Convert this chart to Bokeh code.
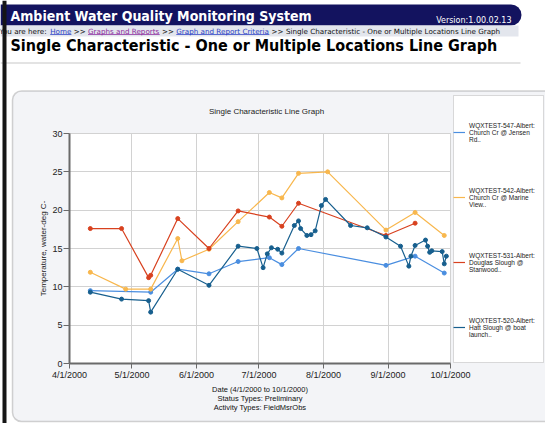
import datetime as dt
from bokeh.plotting import figure
from bokeh.models import Range1d, FixedTicker, Legend, LegendItem, Label, BoxAnnotation, Grid
from bokeh.embed import file_html
from bokeh.resources import INLINE

# ---------------- data ----------------
s547_dates = ["2000-04-11", "2000-05-10", "2000-05-23", "2000-06-07", "2000-06-21", "2000-07-06",
              "2000-07-12", "2000-07-20", "2000-08-31", "2000-09-14", "2000-09-28"]
s547_vals = [9.5, 9.3, 12.3, 11.7, 13.3, 13.8, 12.9, 15.0, 12.8, 14.0, 11.8]

s542_dates = ["2000-04-11", "2000-04-28", "2000-05-10", "2000-05-23", "2000-05-25", "2000-06-07",
              "2000-06-21", "2000-07-06", "2000-07-12", "2000-07-20", "2000-08-03", "2000-08-31",
              "2000-09-14", "2000-09-28"]
s542_vals = [11.9, 9.7, 9.7, 16.3, 13.4, 14.9, 18.5, 22.3, 21.6, 24.8, 25.0, 17.4, 19.7, 16.7]

s531_dates = ["2000-04-11", "2000-04-26", "2000-05-09", "2000-05-10", "2000-05-23", "2000-06-07",
              "2000-06-21", "2000-07-06", "2000-07-12", "2000-07-20", "2000-08-31", "2000-09-14"]
s531_vals = [17.6, 17.6, 11.2, 11.5, 18.9, 15.0, 19.9, 19.1, 17.9, 20.9, 16.7, 18.3]

s520_dates = ["2000-04-11", "2000-04-26", "2000-05-09", "2000-05-10", "2000-05-23", "2000-06-07",
              "2000-06-21", "2000-06-30", "2000-07-03", "2000-07-05", "2000-07-07", "2000-07-10",
              "2000-07-12", "2000-07-18", "2000-07-20", "2000-07-21", "2000-07-24", "2000-07-26",
              "2000-07-28", "2000-07-31", "2000-08-02", "2000-08-14", "2000-08-22", "2000-08-31",
              "2000-09-07", "2000-09-11", "2000-09-12", "2000-09-14", "2000-09-19", "2000-09-20",
              "2000-09-21", "2000-09-22", "2000-09-27", "2000-09-28", "2000-09-29"]
s520_vals = [9.3, 8.4, 8.2, 6.7, 12.3, 10.2, 15.3, 15.0, 12.5, 14.3, 15.1, 14.9,
             14.4, 18.0, 18.6, 17.6, 16.7, 16.8, 17.3, 20.6, 21.4, 18.0, 17.7, 16.5,
             15.3, 12.7, 14.0, 15.4, 16.1, 15.3, 14.5, 14.7, 14.6, 13.0, 14.0]

series_labels = [
    "WQXTEST-547-Albert:\nChurch Cr @ Jensen\nRd..",
    "WQXTEST-542-Albert:\nChurch Cr @ Marine\nView..",
    "WQXTEST-531-Albert:\nDouglas Slough @\nStanwood..",
    "WQXTEST-520-Albert:\nHatt Slough @ boat\nlaunch..",
]
series_colors = ["#4a8ee0", "#f8b74d", "#d8411f", "#175f8e"]

x_tick_dates = ["2000-04-01", "2000-05-01", "2000-06-01", "2000-07-01", "2000-08-01", "2000-09-01", "2000-10-01"]
x_tick_labels = ["4/1/2000", "5/1/2000", "6/1/2000", "7/1/2000", "8/1/2000", "9/1/2000", "10/1/2000"]
y_ticks = [0, 5, 10, 15, 20, 25, 30]
y_min, y_max = 0, 30

page_title = "Ambient Water Quality Monitoring System"
version_text = "Version:1.00.02.13"
crumb_parts = [("You are here:", "text"), ("Home", "link"), (">>", "text"),
               ("Graphs and Reports", "visited"), (">>", "text"),
               ("Graph and Report Criteria", "link"),
               (">>", "text"), ("Single Characteristic - One or Multiple Locations Line Graph", "text")]
heading = "Single Characteristic - One or Multiple Locations Line Graph"
chart_title = "Single Characteristic Line Graph"
x_label_lines = ["Date (4/1/2000 to 10/1/2000)", "Status Types: Preliminary", "Activity Types: FieldMsrObs"]
y_label = "Temperature, water-deg C-"

EPOCH = dt.datetime(1970, 1, 1)


def to_dt(s):
    return dt.datetime.strptime(s, "%Y-%m-%d")


def to_ms(s):
    return (to_dt(s) - EPOCH).total_seconds() * 1000.0


# ---------------- layout (canvas = frame = whole window) ----------------
W, H = 545, 423
PL, PR, PT, PB = 69, 450, 133, 363     # plot-area edges in pixels

x0, x1 = to_ms(x_tick_dates[0]), to_ms(x_tick_dates[-1])
xpp = (x1 - x0) / (PR - PL)
ypp = (y_max - y_min) / (PB - PT)
x_range = Range1d(x0 - PL * xpp, x1 + (W - PR) * xpp)
y_range = Range1d(y_min - (H - PB) * ypp, y_max + PT * ypp)


def sy(y):  # top-down pixel -> bottom-up screen units
    return H - y


SANS = "Liberation Sans, Arial, sans-serif"
VERD = "DejaVu Sans, Verdana, sans-serif"
COND = "DejaVu Sans Condensed, DejaVu Sans, sans-serif"

# approximate DejaVu Sans advance widths (em) for laying out the breadcrumb pieces
DV = {" ": .318, ">": .838, ":": .337, "-": .361, ".": .318,
      "a": .613, "b": .635, "c": .550, "d": .635, "e": .615, "f": .352, "g": .635, "h": .634,
      "i": .278, "j": .278, "k": .579, "l": .278, "m": .974, "n": .634, "o": .612, "p": .635,
      "q": .635, "r": .411, "s": .521, "t": .392, "u": .634, "v": .592, "w": .818, "x": .592,
      "y": .592, "z": .525, "A": .684, "C": .698, "G": .775, "H": .752, "L": .557, "M": .863,
      "O": .787, "R": .695, "S": .635, "Y": .611}


def em_width(s):
    return sum(DV.get(ch, .6) for ch in s)


p = figure(width=W, height=H, x_axis_type="datetime", output_backend="svg", toolbar_location=None,
           title=None, min_border=0, x_range=x_range, y_range=y_range)
p.border_fill_color = "white"
p.background_fill_color = "white"
p.outline_line_color = None


def box(l, r, t, b, fill, line=None, lw=1, radius=0, level="annotation", alpha=1.0):
    ba = BoxAnnotation(left=l, right=r, top=sy(t), bottom=sy(b),
                       left_units="screen", right_units="screen", top_units="screen", bottom_units="screen",
                       fill_color=fill, fill_alpha=alpha if fill else 0, line_color=line, line_width=lw,
                       border_radius=radius, level=level)
    p.add_layout(ba)
    return ba


def add_label(text, x, y, size, color="black", font=SANS, style="normal", align="left", baseline="middle", angle=0):
    lab = Label(x=x, y=sy(y), x_units="screen", y_units="screen", text=text, angle=angle,
                text_font=font, text_font_size=size, text_color=color, text_font_style=style,
                text_align=align, text_baseline=baseline)
    p.add_layout(lab)
    return lab


# chart panel and plot area (drawn under grid and data)
box(12, 575, 90.5, 421, "#f3f4f7", line="#6e6e6e", lw=1.5, radius=9, level="image")
plot_area = BoxAnnotation(left=x0, right=x1, bottom=y_min, top=y_max, fill_color="white", fill_alpha=1,
                          line_color="#8a8a8a", line_width=1, level="image")
p.add_layout(plot_area)
box(453, 543, 95, 362, "white", line="#8a8a8a", lw=1, level="image")

# page header
box(0, 521, 4, 25, "#13135f", radius=(0, 11, 11, 0))
box(0, 518, 25, 36, "#e3e6ed")
box(0, 520, 62, 63, "#c8c8c8")
box(2, 6, 0, 423, "#161616")

add_label(page_title, 10, 15, "14px", "white", font=COND, style="bold")
add_label(version_text, 511, 19.5, "8px", "white", font=VERD, align="right")

# breadcrumb, pieces laid out one after another with a space between
crumb_x0, crumb_x1 = -1, 500
space_em = DV[" "]
total_em = sum(em_width(t) for t, _ in crumb_parts) + space_em * (len(crumb_parts) - 1)
crumb_fs = (crumb_x1 - crumb_x0) / total_em
crumb_colors = {"text": "#111111", "link": "#2b3fc4", "visited": "#8b2a9c"}
cx = crumb_x0
for txt, kind in crumb_parts:
    add_label(txt, cx, 30.5, "%.2fpx" % crumb_fs, crumb_colors[kind], font=VERD)
    w = em_width(txt) * crumb_fs
    if kind != "text":
        box(cx, cx + w, 33.7, 34.5, crumb_colors[kind])
    cx += w + space_em * crumb_fs

add_label(heading, 10, 45, "16px", "black", font=COND, style="bold")

add_label(chart_title, 266, 111, "8px", "#222222", font=SANS, align="center")
for i, line in enumerate(x_label_lines):
    add_label(line, 259.5, 389 + 9 * i, "7.5px", "#111111", font=SANS, align="center")

# ---------------- data glyphs ----------------
all_series = [(s547_dates, s547_vals), (s542_dates, s542_vals), (s531_dates, s531_vals), (s520_dates, s520_vals)]
items = []
for (dates, vals), lbl, col in zip(all_series, series_labels, series_colors):
    xs = [to_dt(d) for d in dates]
    ln = p.line(xs, vals, line_color=col, line_width=1.2)
    p.scatter(xs, vals, size=4, fill_color=col, line_color=col, marker="circle")
    items.append(LegendItem(label=lbl, renderers=[ln]))

legend = Legend(items=items, location=(453, sy(341)), padding=4, spacing=37,
                glyph_width=12, glyph_height=28, label_height=28, label_standoff=4,
                label_text_font=SANS, label_text_font_size="6.5px", label_text_line_height=1.4,
                label_text_color="#222222",
                border_line_color=None, background_fill_alpha=0, margin=0)
p.add_layout(legend)

# ---------------- axes & grid ----------------
xax, yax = p.xaxis[0], p.yaxis[0]
xax.fixed_location = y_min
yax.fixed_location = x0
xax.bounds = (x0, x1)
yax.bounds = (y_min, y_max)
xax.ticker = FixedTicker(ticks=[to_ms(d) for d in x_tick_dates])
xax.major_label_overrides = {to_ms(d): l for d, l in zip(x_tick_dates, x_tick_labels)}
yax.ticker = FixedTicker(ticks=y_ticks)
for ax in (xax, yax):
    ax.axis_line_color = "#6a6a6a"
    ax.axis_line_width = 2
    ax.major_tick_line_color = "#6a6a6a"
    ax.major_tick_in = 0
    ax.minor_tick_line_color = None
    ax.major_label_text_font = SANS
    ax.major_label_text_font_size = "9px"
    ax.major_label_text_color = "#222222"
    ax.major_label_standoff = 1
xax.major_tick_out = 5
yax.major_tick_out = 6
yax.axis_label = y_label
yax.axis_label_text_font = SANS
yax.axis_label_text_font_size = "8px"
yax.axis_label_text_font_style = "normal"
yax.axis_label_text_color = "#222222"
yax.axis_label_standoff = 1

xg, yg = p.xgrid[0], p.ygrid[0]
xg.grid_line_color = "#d2d2d2"
yg.grid_line_color = "#d2d2d2"
xg.bounds = (x0, x1)
yg.bounds = (y_min, y_max)
if "cross_bounds" in Grid.properties():
    xg.cross_bounds = (y_min, y_max)
    yg.cross_bounds = (x0, x1)

open("out.html", "w").write(file_html(p, INLINE))
